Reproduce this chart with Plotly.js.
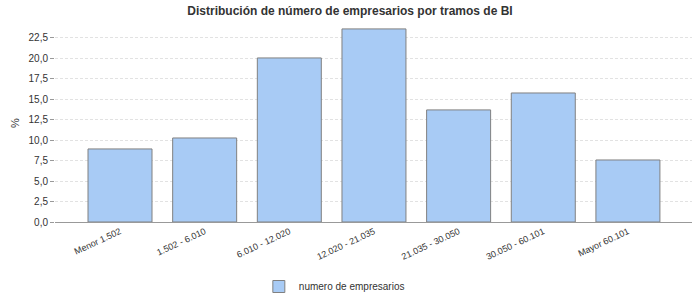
<!DOCTYPE html>
<html><head><meta charset="utf-8">
<script src="https://cdn.plot.ly/plotly-3.0.1.min.js"></script>
<style>html,body{margin:0;padding:0;background:#fff}#chart{width:700px;height:300px}</style>
</head><body><div id="chart"></div>
<script>
const categories = ["Menor 1.502", "1.502 - 6.010", "6.010 - 12.020", "12.020 - 21.035", "21.035 - 30.050", "30.050 - 60.101", "Mayor 60.101"];
const values = [8.93, 10.27, 20.05, 23.6, 13.7, 15.77, 7.58];
const yTicks = [0, 2.5, 5, 7.5, 10, 12.5, 15, 17.5, 20, 22.5];
const seriesName = "numero de empresarios";

Plotly.newPlot("chart", [{
  type: "bar", x: categories, y: values, name: seriesName,
  width: 0.756,
  marker: {color: "#a8cbf5", line: {color: "#808080", width: 1}},
  hoverinfo: "none"
}], {
  width: 700, height: 300,
  margin: {l: 55, r: 8, t: 24, b: 78},
  paper_bgcolor: "#fff", plot_bgcolor: "#fff",
  separators: ",.",
  font: {family: "Liberation Sans, Arial, sans-serif", size: 10, color: "#333"},
  title: {text: "<b>Distribución de número de empresarios por tramos de BI</b>", x: 0.5, xanchor: "center", y: 0.965, yanchor: "middle", font: {size: 12, color: "#333"}},
  showlegend: true,
  legend: {orientation: "h", x: 0.32, xanchor: "left", y: 0.045, yanchor: "middle", yref: "container", itemwidth: 30, font: {size: 10, color: "#333"}},
  xaxis: {type: "category", range: [-0.768, 6.757], tickangle: -25, showgrid: false, showline: true, linecolor: "#999", linewidth: 1, ticks: "", tickfont: {size: 9, color: "#333"}, fixedrange: true, automargin: false},
  yaxis: {range: [0, 24.2], tickvals: yTicks, tickformat: ".1f", showgrid: true, gridcolor: "#e2e2e2", griddash: "3px,2px", gridwidth: 1, zeroline: false, showline: false, ticks: "outside", ticklen: 4, tickcolor: "#999", tickfont: {size: 10, color: "#333"},
    title: {text: "%", font: {size: 11, color: "#333"}, standoff: 6}, fixedrange: true}
}, {displayModeBar: false, staticPlot: true});
</script></body></html>
